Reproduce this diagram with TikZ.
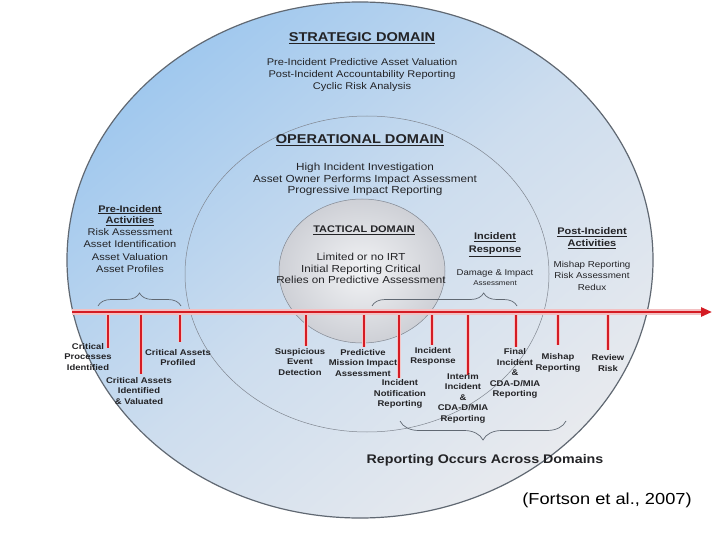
\documentclass[tikz,border=0pt]{standalone}
\usepackage{fontspec}
\setmainfont{Liberation Sans}
\usetikzlibrary{arrows.meta,decorations.pathreplacing}

\definecolor{domainblue}{RGB}{160,200,238}
\definecolor{domainmid}{RGB}{205,221,238}
\definecolor{domainpale}{RGB}{232,234,238}
\definecolor{rimgrey}{RGB}{96,104,114}
\definecolor{ringgrey}{RGB}{128,134,144}
\definecolor{tacgrey}{RGB}{206,208,214}
\definecolor{tacwhite}{RGB}{242,243,245}
\definecolor{lanered}{RGB}{212,28,36}
\definecolor{inkgrey}{RGB}{35,35,38}

\begin{document}
\begin{tikzpicture}[x=1pt,y=-1pt]
\tikzset{
  domainhead/.style={font=\bfseries\fontsize{12.8}{15}\selectfont, text=inkgrey, xscale=1.14, inner sep=0pt},
  tachead/.style={font=\bfseries\fontsize{9.6}{11}\selectfont, text=inkgrey, xscale=1.14, inner sep=0pt},
  domaintext/.style={font=\fontsize{9.7}{12}\selectfont, text=inkgrey, align=center, xscale=1.14, inner sep=0pt},
  sidehead/.style={font=\bfseries\fontsize{9.6}{11.5}\selectfont, text=inkgrey, align=center, xscale=1.14, inner sep=0pt},
  event/.style={font=\bfseries\fontsize{8.3}{10.5}\selectfont, text=inkgrey, align=center, xscale=1.14, inner sep=0pt},
  eventtick/.style={draw=lanered, line width=1.8pt, preaction={draw=lanered!25, line width=4.2pt}},
  bracket/.style={decorate, draw=rimgrey, line width=0.7pt},
}
\fill[white] (0,0) rectangle (720,540);
\useasboundingbox (0,0) rectangle (720,540);

% domains
\draw[draw=rimgrey, line width=1.2pt, top color=domainblue, bottom color=domainpale, middle color=domainmid, shading angle=40]
  (360,260) ellipse [x radius=293, y radius=258];
\draw[draw=ringgrey, line width=0.5pt] (367,274) ellipse [x radius=182, y radius=158];
\draw[draw=ringgrey, line width=0.5pt, shading=radial, inner color=tacwhite, outer color=tacgrey]
  (362,271) ellipse [x radius=83, y radius=72];

\node[domainhead] (strathead) at (362,38) {\underline{STRATEGIC DOMAIN}};
\node[domaintext] (strattext) at (362,75) {Pre-Incident Predictive Asset Valuation\\Post-Incident Accountability Reporting\\Cyclic Risk Analysis};
\node[domainhead] (ophead) at (360,140) {\underline{OPERATIONAL DOMAIN}};
\node[domaintext, font=\fontsize{10.3}{11.6}\selectfont] (optext) at (365,179.5) {High Incident Investigation\\Asset Owner Performs Impact Assessment\\Progressive Impact Reporting};
\node[tachead] (tachead) at (364,230) {\underline{TACTICAL DOMAIN}};
\node[domaintext, font=\fontsize{10.2}{11.5}\selectfont] (tactext) at (361,268.5) {Limited or no IRT\\Initial Reporting Critical\\Relies on Predictive Assessment};

% activities
\node[sidehead] (prehead) at (130,215.5) {\underline{Pre-Incident}\\\underline{Activities}};
\node[domaintext, font=\fontsize{9.7}{12.3}\selectfont] (prelist) at (130,250.5) {Risk Assessment\\Asset Identification\\Asset Valuation\\Asset Profiles};
\node[sidehead, font=\bfseries\fontsize{9.6}{13}\selectfont] (irhead) at (495,244.5) {\underline{Incident}\\\underline{Response}};
\node[domaintext, font=\fontsize{8.4}{10}\selectfont] (irtext) at (495,278) {Damage \& Impact\\{\fontsize{7}{8}\selectfont Assessment}};
\node[sidehead, font=\bfseries\fontsize{9.6}{12}\selectfont] (posthead) at (592,238) {\underline{Post-Incident}\\\underline{Activities}};
\node[domaintext, font=\fontsize{8.6}{11.5}\selectfont] (postlist) at (592,275.5) {Mishap Reporting\\Risk Assessment\\Redux};

\coordinate (prebraceL) at (98,306);
\coordinate (prebraceR) at (181,306);
\draw[bracket, decoration={brace, amplitude=13pt}] (prebraceL) -- (prebraceR);
\coordinate (irbraceL) at (372,306);
\coordinate (irbraceR) at (517,306);
\draw[bracket, decoration={brace, amplitude=13pt, aspect=0.77}] (irbraceL) -- (irbraceR);

% events along the timeline
\coordinate (top1) at (108,312);  \coordinate (bot1) at (108,348);
\coordinate (top2) at (141,312);  \coordinate (bot2) at (141,374);
\coordinate (top3) at (180,312);  \coordinate (bot3) at (180,342);
\coordinate (top4) at (306,312);  \coordinate (bot4) at (306,346);
\coordinate (top5) at (364,312);  \coordinate (bot5) at (364,347);
\coordinate (top6) at (399,312);  \coordinate (bot6) at (399,378);
\coordinate (top7) at (432,312);  \coordinate (bot7) at (432,345);
\coordinate (top8) at (468,312);  \coordinate (bot8) at (468,375);
\coordinate (top9) at (516,312);  \coordinate (bot9) at (516,347);
\coordinate (top10) at (558,312); \coordinate (bot10) at (558,345);
\coordinate (top11) at (608,312); \coordinate (bot11) at (608,350);
\draw[eventtick] (top1) -- (bot1);
\draw[eventtick] (top2) -- (bot2);
\draw[eventtick] (top3) -- (bot3);
\draw[eventtick] (top4) -- (bot4);
\draw[eventtick] (top5) -- (bot5);
\draw[eventtick] (top6) -- (bot6);
\draw[eventtick] (top7) -- (bot7);
\draw[eventtick] (top8) -- (bot8);
\draw[eventtick] (top9) -- (bot9);
\draw[eventtick] (top10) -- (bot10);
\draw[eventtick] (top11) -- (bot11);

\coordinate (lanestart) at (72,312);
\coordinate (laneend) at (712,312);
\draw[lanered!28, line width=5.5pt, shorten >=9pt] (lanestart) -- (laneend);
\draw[lanered, line width=2.6pt, -{Triangle[length=11pt,width=9pt]}] (lanestart) -- (laneend);

\node[event] (cpi) at (88,357) {Critical\\Processes\\Identified};
\node[event] (cai) at (139,391) {Critical Assets\\Identified\\\& Valuated};
\node[event] (cap) at (178,357.5) {Critical Assets\\Profiled};
\node[event] (sed) at (300,362) {Suspicious\\Event\\Detection};
\node[event] (pmi) at (363,363) {Predictive\\Mission Impact\\Assessment};
\node[event] (irs) at (433,356.5) {Incident\\Response};
\node[event] (inr) at (400,394) {Incident\\Notification\\Reporting};
\node[event] (iic) at (463,398) {Interim\\Incident\\\&\\CDA-D/MIA\\Reporting};
\node[event] (fic) at (515,373.5) {Final\\Incident\\\&\\CDA-D/MIA\\Reporting};
\node[event] (mrp) at (558,363) {Mishap\\Reporting};
\node[event] (rrk) at (608,363) {Review\\Risk};

\coordinate (repbraceL) at (400,421);
\coordinate (repbraceR) at (566,421);
\draw[bracket, decoration={brace, amplitude=19pt, mirror}] (repbraceL) -- (repbraceR);
\node[domainhead, font=\bfseries\fontsize{12.5}{15}\selectfont] (across) at (485,460) {Reporting Occurs Across Domains};
\node[domaintext, font=\fontsize{16}{19}\selectfont, text=black] (source) at (607,500) {(Fortson et al., 2007)};
\end{tikzpicture}
\end{document}
